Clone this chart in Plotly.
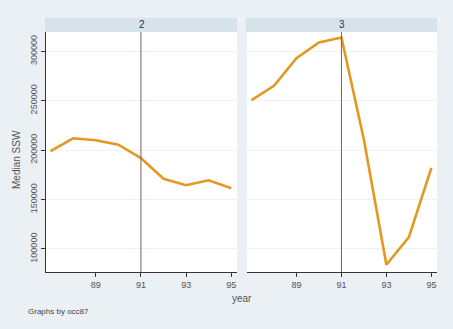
import plotly.graph_objects as go

# Median SSW by year, split by occ87 group
years = [87, 88, 89, 90, 91, 92, 93, 94, 95]
ssw_occ2 = [199000, 212000, 210000, 205500, 192000, 171000, 164500, 169500, 161500]
ssw_occ3 = [250500, 265000, 293000, 309000, 314000, 210500, 84000, 112000, 182000]
panels = ["2", "3"]
x_ticks = [89, 91, 93, 95]
y_ticks = [100000, 150000, 200000, 250000, 300000]
y_tick_text = [str(v) for v in y_ticks]
break_year = 91

W, H = 453, 329
bg = "#eaf0f3"
strip = "#d6e3ea"
line_col = "#e3981f"
txt = "#555555"
font_family = "Liberation Sans, Arial, sans-serif"

def px(x):
    return x / W

def py(y):
    return 1 - y / H

dom_x = [[px(46), px(237)], [px(247), px(437)]]
dom_y = [py(272), py(32)]
xr = [86.8, 95.25]
yr = [76700, 319500]

fig = go.Figure()
for i, (label, vals) in enumerate(zip(panels, [ssw_occ2, ssw_occ3])):
    xa = "x" if i == 0 else "x2"
    ya = "y" if i == 0 else "y2"
    fig.add_trace(go.Scatter(x=years, y=vals, mode="lines", xaxis=xa, yaxis=ya,
                             line=dict(color=line_col, width=2.6), showlegend=False))
    # vertical reference line at the break year
    fig.add_shape(type="line", xref=xa, yref=f"{ya} domain", x0=break_year, x1=break_year,
                  y0=0, y1=1, line=dict(color="#7a5f68", width=1))
    # panel header strip
    fig.add_shape(type="rect", xref="paper", yref="paper",
                  x0=dom_x[i][0] - px(1), x1=dom_x[i][1], y0=py(32), y1=py(18),
                  fillcolor=strip, line=dict(width=0), layer="below")
    fig.add_annotation(x=(dom_x[i][0] + dom_x[i][1]) / 2, y=py(25), xref="paper", yref="paper",
                       text=label, showarrow=False, font=dict(size=10, color="#333333"),
                       xanchor="center", yanchor="middle")

axis_common = dict(range=xr, tickvals=x_ticks, ticks="outside", ticklen=4,
                   tickcolor="#333333", showline=True, linecolor="#333333", linewidth=1,
                   showgrid=False, zeroline=False, tickfont=dict(size=9, color=txt))
fig.update_layout(
    width=W, height=H, margin=dict(l=0, r=0, t=0, b=0),
    paper_bgcolor=bg, plot_bgcolor="white",
    font=dict(family=font_family, color=txt),
    xaxis=dict(domain=dom_x[0], anchor="y", **axis_common),
    xaxis2=dict(domain=dom_x[1], anchor="y2", **axis_common),
    yaxis=dict(domain=dom_y, range=yr, tickvals=y_ticks, ticktext=y_tick_text,
               ticks="outside", ticklen=4,
               tickcolor="#333333", showline=True, linecolor="#333333", linewidth=1,
               showgrid=True, gridcolor="#eef2f4", gridwidth=1, zeroline=False,
               tickangle=-90, tickfont=dict(size=9, color=txt)),
    yaxis2=dict(domain=dom_y, range=yr, anchor="x2", tickvals=y_ticks, showticklabels=False,
                showline=False, showgrid=True, gridcolor="#eef2f4", gridwidth=1,
                zeroline=False),
)

fig.add_annotation(x=px(16), y=py(160), xref="paper", yref="paper", text="Median SSW",
                   textangle=-90, showarrow=False, font=dict(size=10, color=txt),
                   xanchor="center", yanchor="middle")
fig.add_annotation(x=px(242), y=py(298), xref="paper", yref="paper", text="year",
                   showarrow=False, font=dict(size=10, color=txt),
                   xanchor="center", yanchor="middle")
fig.add_annotation(x=px(26), y=py(311), xref="paper", yref="paper", text="Graphs by occ87",
                   showarrow=False, font=dict(size=8, color="#444444"),
                   xanchor="left", yanchor="middle")

fig.write_html("out.html")
